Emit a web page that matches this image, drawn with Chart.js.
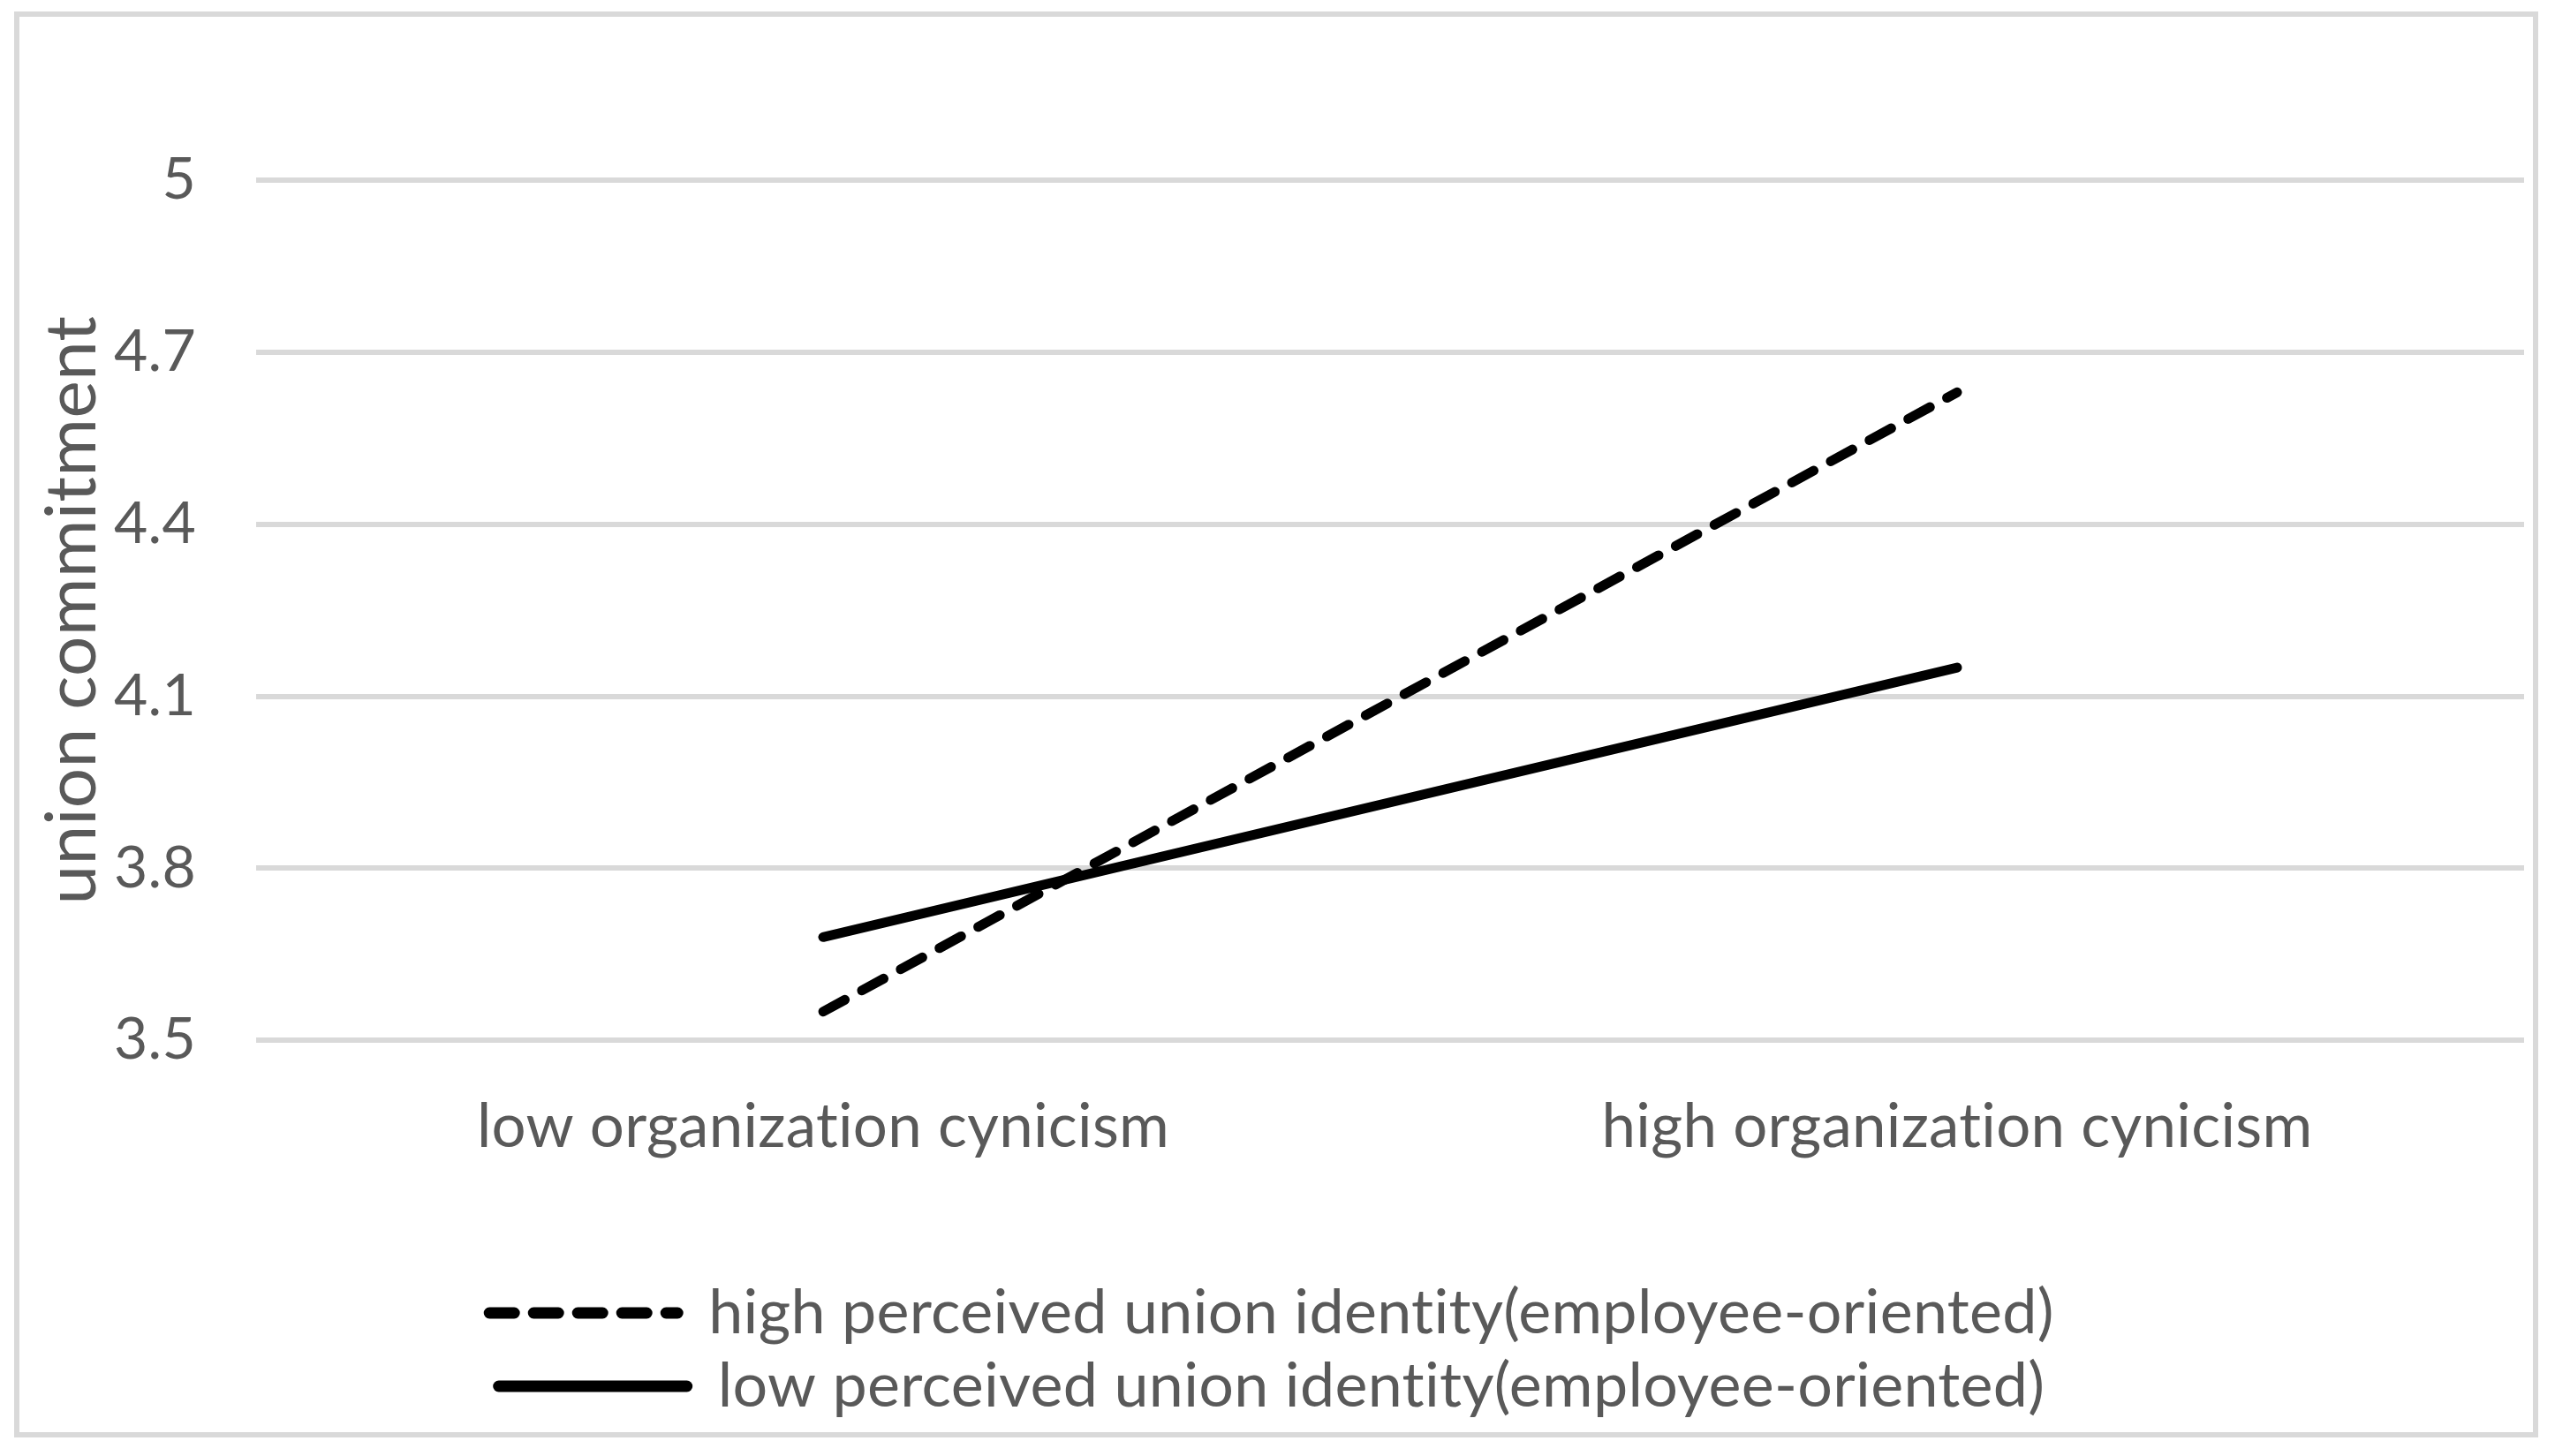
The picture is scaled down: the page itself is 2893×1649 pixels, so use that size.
<!DOCTYPE html>
<html>
<head>
<meta charset="utf-8">
<script src="https://cdn.jsdelivr.net/npm/chart.js@4"></script>
<style>
html, body { margin: 0; padding: 0; background: #fff; }
#frame { position: absolute; left: 16px; top: 13px; width: 2846px; height: 1603px; border: 6px solid #d9d9d9; }
</style>
</head>
<body>
<div id="frame"><canvas id="myChart" width="2846" height="1603"></canvas></div>
<script>
var textColor = "#595959";
var gridColor = "#d9d9d9";
var fontFamily = "Lato, 'Liberation Sans', sans-serif";

var xValues = ["low organization cynicism", "high organization cynicism"];
var seriesNames = ["high perceived union identity(employee-oriented)", "low perceived union identity(employee-oriented)"];
var highIdentity = [3.55, 4.63];
var lowIdentity = [3.68, 4.15];
var yTicks = [3.5, 3.8, 4.1, 4.4, 4.7, 5];

// Lato has a "ti" ligature, switch it off
var noLigatures = {
    id: "noLigatures",
    beforeUpdate: function (chart) {
        chart.ctx.textRendering = "optimizeSpeed";
        chart.ctx.letterSpacing = "0.3px";
    },
    beforeDraw: function (chart) {
        chart.ctx.textRendering = "optimizeSpeed";
        chart.ctx.letterSpacing = "0.3px";
    },
};

new Chart("myChart", {
    type: "line",
    data: {
        labels: xValues,
        datasets: [
            {
                label: seriesNames[0],
                data: highIdentity,
                borderColor: "#000",
                backgroundColor: "#000",
                borderWidth: 11,
                borderDash: [28, 22],
                borderCapStyle: "round",
                pointRadius: 0,
                fill: false,
            },
            {
                label: seriesNames[1],
                data: lowIdentity,
                borderColor: "#000",
                backgroundColor: "#000",
                borderWidth: 11,
                borderCapStyle: "round",
                pointRadius: 0,
                fill: false,
            },
        ],
    },
    plugins: [noLigatures],
    options: {
        responsive: false,
        animation: false,
        layout: { padding: { left: 0, right: 10, top: 185, bottom: 7 } },
        plugins: {
            tooltip: { enabled: false },
            legend: {
                position: "bottom",
                title: { display: true, text: "", font: { size: 10 }, padding: { top: 60, bottom: 0 } },
                labels: {
                    usePointStyle: true,
                    pointStyle: "line",
                    pointStyleWidth: 213,
                    padding: 13,
                    color: textColor,
                    font: { family: fontFamily, size: 70 },
                    generateLabels: function (chart) {
                        var items = Chart.defaults.plugins.legend.labels.generateLabels(chart);
                        items.forEach(function (item) {
                            var ds = chart.data.datasets[item.datasetIndex];
                            item.lineDash = ds.borderDash || [];
                            item.lineCap = "round";
                            item.lineWidth = 13;
                        });
                        return items;
                    },
                },
            },
        },
        scales: {
            x: {
                offset: true,
                grid: { display: false },
                border: { display: false },
                ticks: { color: textColor, font: { family: fontFamily, size: 69 }, padding: 49, maxRotation: 0 },
            },
            y: {
                min: 3.5,
                max: 5,
                afterBuildTicks: function (axis) {
                    axis.ticks = yTicks.map(function (v) { return { value: v }; });
                },
                grid: { color: gridColor, lineWidth: 6, drawTicks: false },
                border: { display: false },
                ticks: {
                    color: textColor,
                    font: { family: fontFamily, size: 66 },
                    padding: 68,
                    callback: function (v) { return String(Number(v.toFixed(1))); },
                },
                title: {
                    display: true,
                    text: "union commitment",
                    color: textColor,
                    font: { family: fontFamily, size: 80 },
                    padding: { top: 12, bottom: -69 },
                },
            },
        },
    },
});
</script>
</body>
</html>
